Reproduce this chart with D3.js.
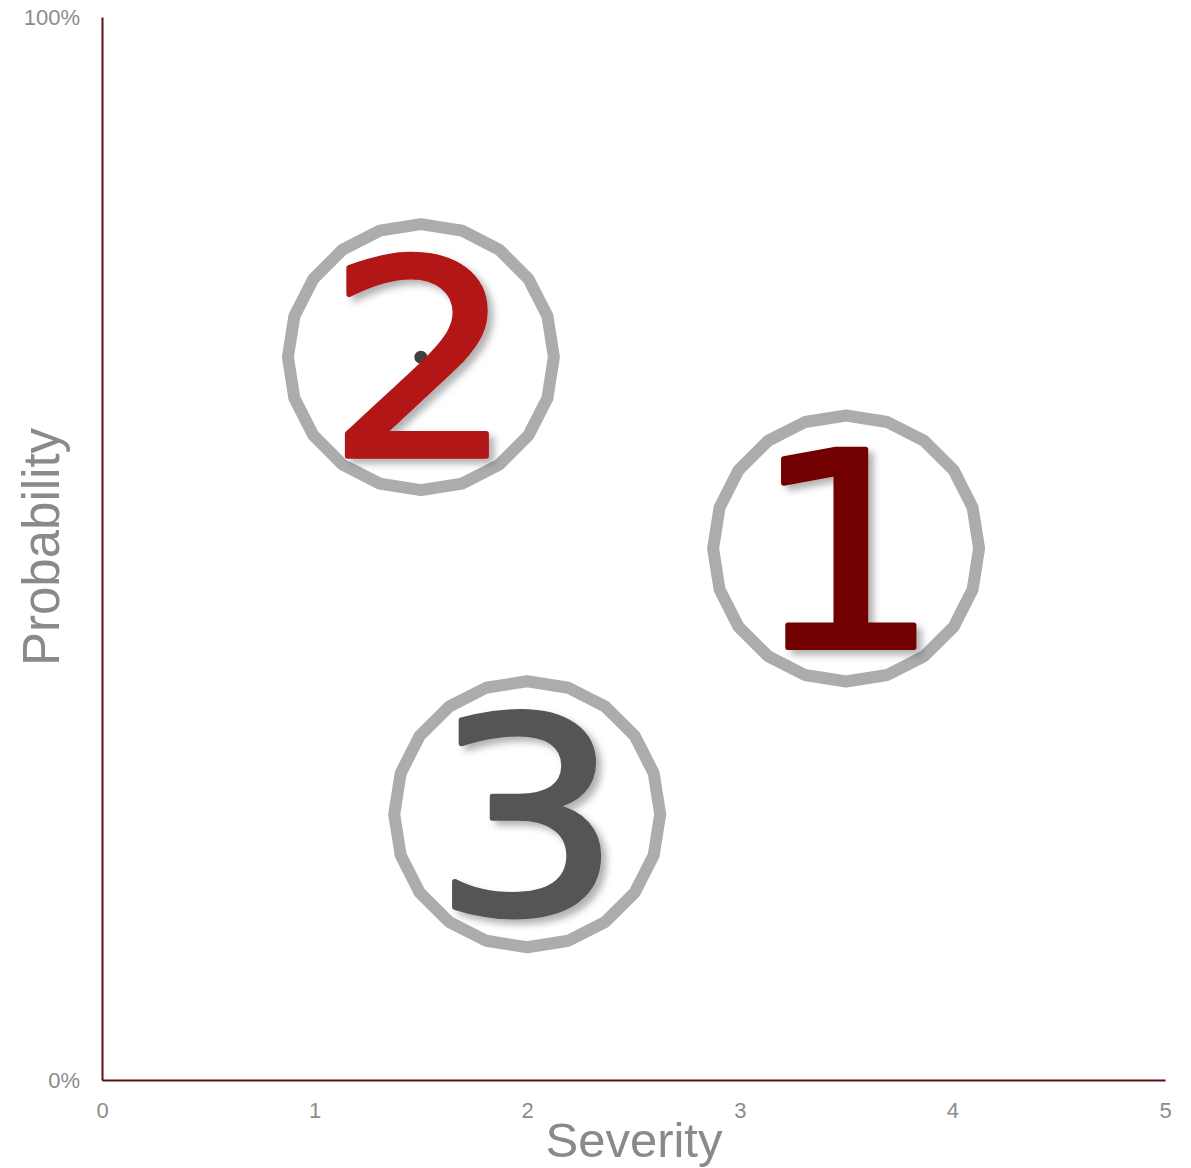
<!DOCTYPE html>
<html>
<head>
<meta charset="utf-8">
<script src="https://cdn.jsdelivr.net/npm/d3@7"></script>
<style>
  html, body { margin: 0; padding: 0; background: #fff; }
  svg { display: block; }
</style>
</head>
<body>
<svg id="chart" width="1191" height="1168"></svg>
<script>
// Risk items: severity (x) and probability (y)
const labels = ["1", "2", "3"];
const severity = [3.5, 1.5, 2.0];
const probability = [0.50, 0.68, 0.25];
const labelColors = ["#720505", "#b31414", "#565554"];
const xTicks = [0, 1, 2, 3, 4, 5];
const yTicks = [0, 1];

const W = 1191, H = 1168;
const margin = { left: 102, right: 26, top: 17, bottom: 88 };

const svg = d3.select("#chart");

const x = d3.scaleLinear().domain([0, 5]).range([margin.left, W - margin.right]);
const y = d3.scaleLinear().domain([0, 1]).range([H - margin.bottom, margin.top]);

// Drop shadow for the big numerals
const defs = svg.append("defs");
const f = defs.append("filter").attr("id", "shadow")
  .attr("x", "-20%").attr("y", "-20%").attr("width", "150%").attr("height", "150%");
f.append("feDropShadow").attr("dx", 5).attr("dy", 5).attr("stdDeviation", 3.5)
  .attr("flood-color", "#000").attr("flood-opacity", 0.3);

// Axes
const axisColor = "#5b1016";
const tickColor = "#8c8c8c";
const tickFont = "'Liberation Sans', Arial, sans-serif";

const xAxis = svg.append("g")
  .attr("transform", `translate(0,${y(0)})`)
  .call(d3.axisBottom(x).tickValues(xTicks).tickSize(0).tickPadding(22).tickFormat(d3.format("d")));
xAxis.select(".domain").attr("stroke", axisColor).attr("stroke-width", 2);
xAxis.selectAll("text").attr("fill", tickColor).attr("font-size", 22).attr("font-family", tickFont);

const yAxis = svg.append("g")
  .attr("transform", `translate(${x(0)},0)`)
  .call(d3.axisLeft(y).tickValues(yTicks).tickSize(0).tickPadding(22).tickFormat(d3.format(".0%")));
yAxis.select(".domain").attr("stroke", axisColor).attr("stroke-width", 2);
yAxis.selectAll("text").attr("fill", tickColor).attr("font-size", 22).attr("font-family", tickFont)
  .attr("dy", "0.32em");

// Axis titles
svg.append("text")
  .attr("x", 634).attr("y", 1157)
  .attr("text-anchor", "middle")
  .attr("font-family", tickFont).attr("font-size", 49).attr("fill", "#8a8a8a")
  .text("Severity");

svg.append("text")
  .attr("transform", `translate(59,${547}) rotate(-90)`)
  .attr("text-anchor", "middle")
  .attr("font-family", tickFont).attr("font-size", 51).attr("fill", "#8a8a8a")
  .text("Probability");

// Points
const data = labels.map((l, i) => ({ label: l, sx: severity[i], py: probability[i], color: labelColors[i] }));

// Faceted ring around each point
const ringR = 133;
const sides = 20;
const ringPts = d3.range(sides).map(k => [2 * Math.PI * k / sides, ringR]);
const ring = d3.lineRadial().curve(d3.curveLinearClosed);

const g = svg.append("g");
const items = g.selectAll("g.item").data(data).join("g")
  .attr("class", "item")
  .attr("transform", d => `translate(${x(d.sx)},${y(d.py)})`);

items.append("path")
  .attr("d", ring(ringPts))
  .attr("fill", "none")
  .attr("stroke", "#acacac")
  .attr("stroke-width", 12)
  .attr("stroke-linejoin", "round");

items.append("circle")
  .attr("r", 6.5)
  .attr("fill", "#404040");

items.append("text")
  .attr("text-anchor", "middle")
  .attr("transform", "scale(1.1,1)")
  .attr("y", 99)
  .attr("font-family", "'DejaVu Sans', Verdana, sans-serif")
  .attr("font-size", 272)
  .attr("fill", d => d.color)
  .attr("stroke", d => d.color)
  .attr("stroke-width", 5)
  .attr("stroke-linejoin", "round")
  .attr("filter", "url(#shadow)")
  .text(d => d.label);
</script>
</body>
</html>
